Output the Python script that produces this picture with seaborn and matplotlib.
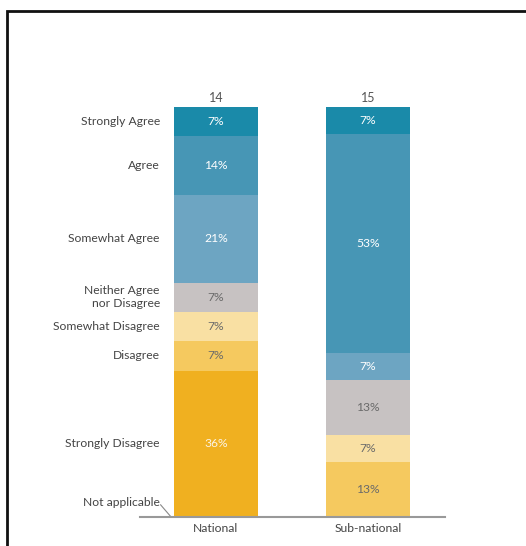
import matplotlib
matplotlib.use("Agg")
import matplotlib.pyplot as plt
import seaborn as sns
import numpy as np
import pandas as pd
from matplotlib.patches import Rectangle
from matplotlib.lines import Line2D

sns.set_theme(style="white")
plt.rcParams['font.family'] = ['Lato', 'DejaVu Sans']

groups = ["National", "Sub-national"]
totals = [14, 15]
categories = ["Strongly Agree", "Agree", "Somewhat Agree", "Neither Agree\nnor Disagree",
              "Somewhat Disagree", "Disagree", "Strongly Disagree", "Not applicable"]
national_counts = [1, 2, 3, 1, 1, 1, 5, 0]
subnational_counts = [1, 8, 1, 2, 1, 2, 0, 0]
colors = ["#1a8aa9", "#4796b5", "#6da5c2", "#c7c2c2", "#f9e0a3", "#f5c95f", "#f0b020", "#dddddd"]
text_colors = ["white", "white", "white", "#6a6a6a", "#6a6a6a", "#6a6a6a", "#fbf3e4", "#6a6a6a"]

W, H = 526, 546
fig = plt.figure(figsize=(W / 100, H / 100), dpi=100)
ax = fig.add_axes([140 / W, 1 - 517 / H, 305 / W, 410 / H])

counts = np.array([national_counts, subnational_counts], dtype=float)
props = counts / np.array(totals, dtype=float)[:, None]

# stack from bottom (last category) to top (first)
bottoms = np.zeros(len(groups))
seg_centers = {}
for i in range(len(categories) - 1, -1, -1):
    vals = props[:, i]
    df = pd.DataFrame({"group": groups, "value": vals})
    sns.barplot(data=df, x="group", y="value", bottom=bottoms.copy(), color=colors[i],
                width=0.553, saturation=1, linewidth=0, ax=ax, errorbar=None)
    seg_centers[i] = bottoms + vals / 2
    for g in range(len(groups)):
        if vals[g] > 0:
            ax.text(g, bottoms[g] + vals[g] / 2, f"{round(vals[g] * 100):.0f}%",
                    ha="center", va="center", fontsize=8.7, color=text_colors[i])
    bottoms = bottoms + vals

ax.set_xlim(-0.5, 1.507)
ax.set_ylim(0, 1)
ax.set_xlabel("")
ax.set_ylabel("")
ax.set_yticks([])
ax.tick_params(axis="x", length=0, pad=4, labelsize=8.7, labelcolor="#444444")
for s in ["top", "right", "left"]:
    ax.spines[s].set_visible(False)
ax.spines["bottom"].set_color("#999999")
ax.spines["bottom"].set_linewidth(1.5)

# n labels on top
for g in range(len(groups)):
    ax.text(g, 1.008, str(totals[g]), ha="center", va="bottom", fontsize=9, color="#555555")

# category labels on the left aligned to National segments
label_x = -0.37
for i, cat in enumerate(categories):
    if i == len(categories) - 1:
        ax.text(label_x, 0.035, cat, ha="right", va="center", fontsize=8.7, color="#444444")
        ax.add_line(Line2D([-0.365, -0.3], [0.03, 0.002], color="#888888", lw=0.8, clip_on=False))
        continue
    y = seg_centers[i][0]
    ax.text(label_x, y, cat, ha="right", va="center", fontsize=8.7, color="#444444",
            linespacing=1.2)

# frame
fig.patches.append(Rectangle((7 / W, -0.1), 1.2, 1.1 - 11 / H + 0.0, transform=fig.transFigure,
                             fill=False, edgecolor="#111111", linewidth=2, zorder=10))

fig.savefig("out.png", dpi=100)
